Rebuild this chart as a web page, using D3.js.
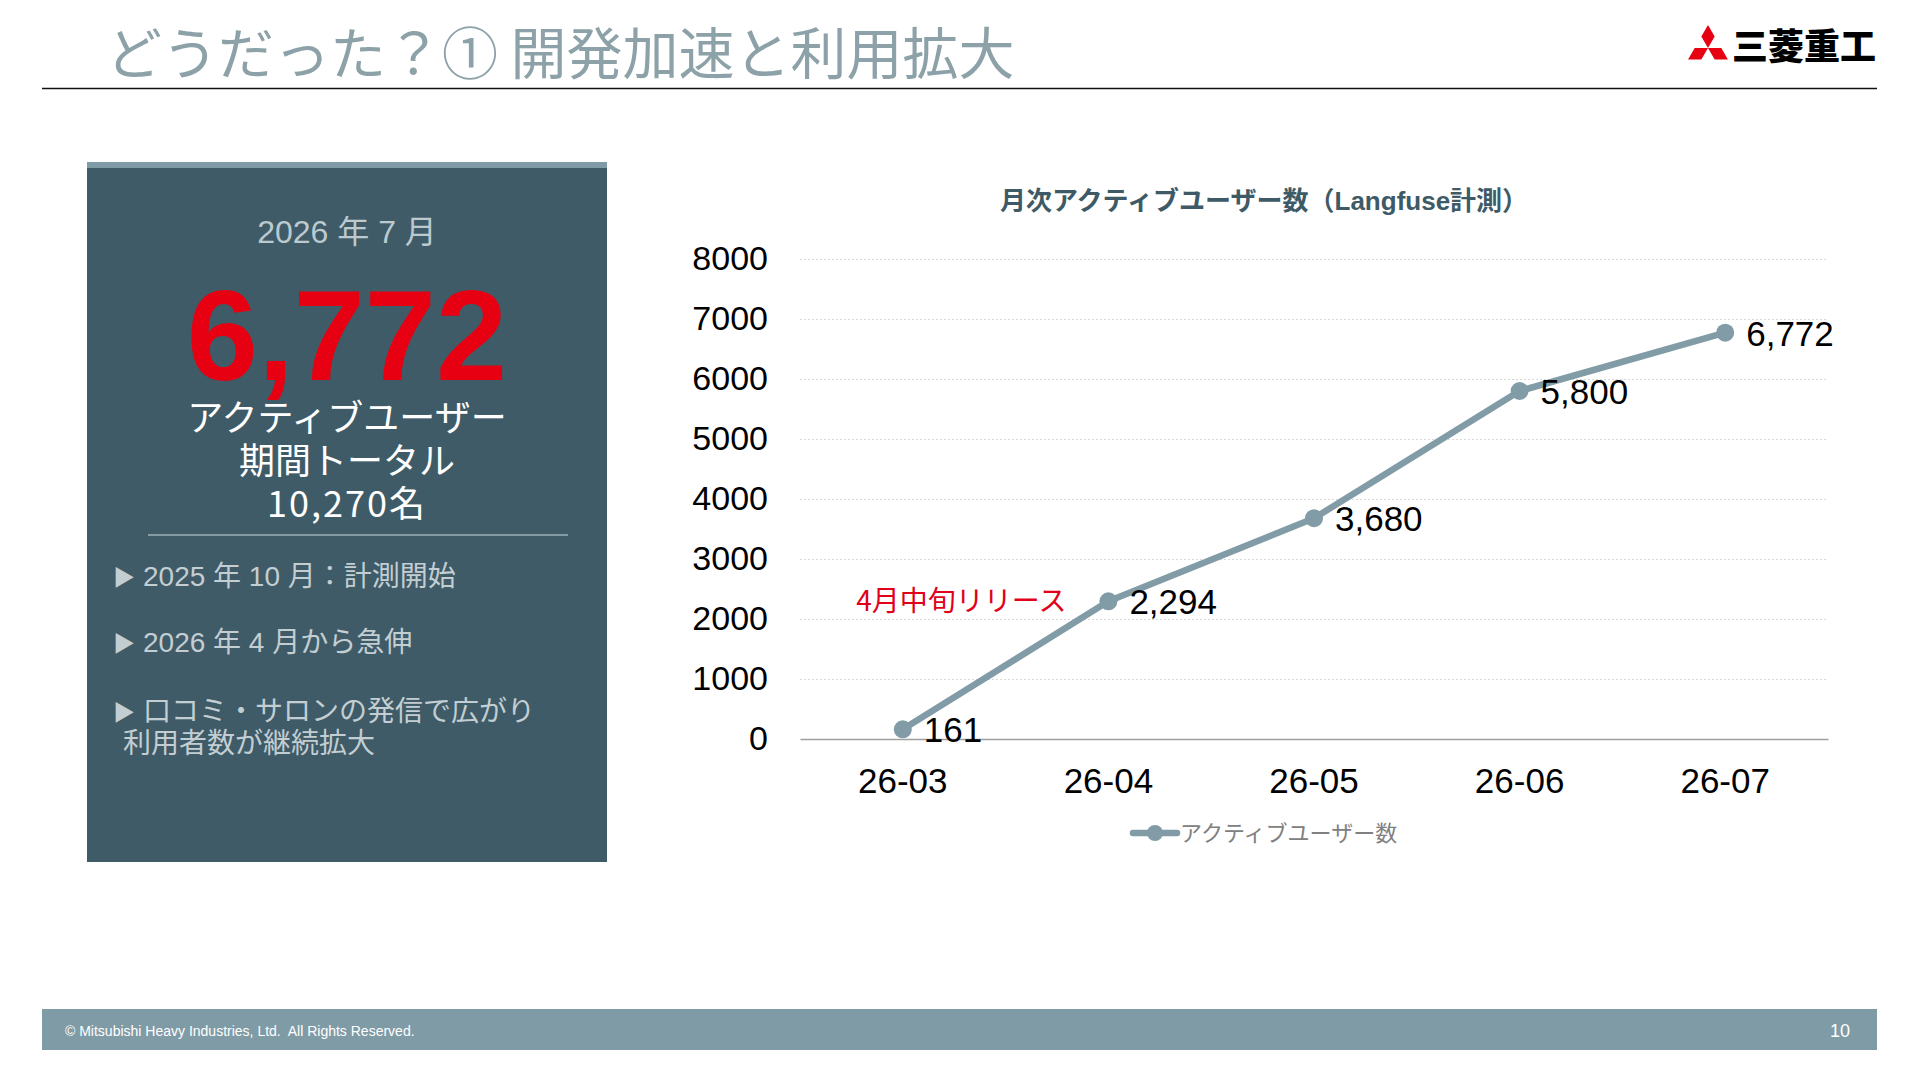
<!DOCTYPE html>
<html lang="ja">
<head>
<meta charset="utf-8">
<title>どうだった？① 開発加速と利用拡大</title>
<script src="https://cdn.jsdelivr.net/npm/d3@7/dist/d3.min.js"></script>
<style>
  body { margin: 0; background: #fff; }
  svg { display: block; }
</style>
</head>
<body>
<div id="chart-area"></div>
<script>
// data
const months = ["26-03", "26-04", "26-05", "26-06", "26-07"];
const activeUsers = [161, 2294, 3680, 5800, 6772];
const yTicks = [0, 1000, 2000, 3000, 4000, 5000, 6000, 7000, 8000];
const seriesName = "アクティブユーザー数";
const chartTitle = "月次アクティブユーザー数（Langfuse計測）";
const releaseNote = "4月中旬リリース";
const summaryMonth = "2026 年 7 月";
const summaryValue = "6,772";
const summaryLines = ["アクティブユーザー", "期間トータル", "10,270名"];
const bullets = [["2025 年 10 月：計測開始"], ["2026 年 4 月から急伸"], ["口コミ・サロンの発信で広がり", "利用者数が継続拡大"]];

const W = 1920, H = 1080;
const SANS = "'Liberation Sans', Arial, 'Noto Sans CJK JP', sans-serif";
const JP = "'Noto Sans CJK JP', sans-serif";
const LINE_COLOR = "#819ca6";
const SLATE = "#3f5b67";

const svg = d3.select("#chart-area").append("svg").attr("width", W).attr("height", H);
svg.append("rect").attr("width", W).attr("height", H).attr("fill", "#fff");

// ---- header ----
svg.append("text").attr("x", 106).attr("y", 74).
    attr("font-family", JP).attr("font-size", "56px").attr("font-weight", 400).
    attr("fill", "#8da2a8").text("どうだった？① 開発加速と利用拡大");

svg.append("line").attr("x1", 42).attr("x2", 1877).attr("y1", 88.5).attr("y2", 88.5).
    attr("stroke", "#111").attr("stroke-width", 1.5);

// three diamonds mark
const s = 13.3, cx = 1708, cy = 48;
const pt = (a, r) => [cx + r * Math.cos(a * Math.PI / 180), cy - r * Math.sin(a * Math.PI / 180)];
const diamond = (a1, a2) => {
    const p1 = pt(a1, s), p2 = pt(a2, s);
    const p3 = [p1[0] + p2[0] - cx, p1[1] + p2[1] - cy];
    return `M${cx},${cy}L${p1}L${p3}L${p2}Z`;
};
const logo = svg.append("g").attr("fill", "#e60012");
[[60, 120], [0, -60], [180, 240]].forEach(d => logo.append("path").attr("d", diamond(d[0], d[1])));
svg.append("text").attr("x", 1732).attr("y", 60).
    attr("font-family", JP).attr("font-size", "36px").attr("font-weight", 900).
    attr("fill", "#000").text("三菱重工");

// ---- left summary panel ----
const panel = svg.append("g");
panel.append("rect").attr("x", 87).attr("y", 162).attr("width", 520).attr("height", 700).attr("fill", SLATE);
panel.append("rect").attr("x", 87).attr("y", 162).attr("width", 520).attr("height", 6).attr("fill", "#7f9ba5");

const pcx = 347;
panel.append("text").attr("x", pcx).attr("y", 243).attr("text-anchor", "middle").
    attr("font-family", SANS).attr("font-size", "32px").attr("fill", "#bccad0").text(summaryMonth);
panel.append("text").attr("x", pcx).attr("y", 380).attr("text-anchor", "middle").
    attr("font-family", SANS).attr("font-size", "128px").attr("font-weight", 700).
    attr("fill", "#e60012").text(summaryValue);
panel.selectAll(".sum").data(summaryLines).enter().append("text").attr("class", "sum").
    attr("x", pcx).attr("y", (d, i) => 431 + i * 43).attr("text-anchor", "middle").
    attr("font-family", JP).attr("font-size", "36px").attr("fill", "#fff").
    attr("letter-spacing", (d, i) => i === 2 ? "2px" : null).text(d => d);
panel.append("line").attr("x1", 148).attr("x2", 568).attr("y1", 535).attr("y2", 535).
    attr("stroke", "#9db1b8").attr("stroke-width", 1.5);

const bulletY = [586, 652, 721];
bullets.forEach((lines, i) => {
    const g = panel.append("g").attr("font-size", "28px").attr("fill", "#c3ced3");
    g.append("text").attr("x", 113).attr("y", bulletY[i] - 1).attr("font-family", JP).attr("font-size", "22px").text("▶");
    g.append("text").attr("x", 143).attr("y", bulletY[i]).attr("font-family", SANS).text(lines[0]);
    if (lines[1]) {
        g.append("text").attr("x", 123).attr("y", bulletY[i] + 32).attr("font-family", SANS).text(lines[1]);
    }
});

// ---- line chart ----
const plot = { left: 800, right: 1828, top: 259, bottom: 739 };
const x = d3.scaleBand().domain(months).range([plot.left, plot.right]);
const cxOf = m => x(m) + x.bandwidth() / 2;
const y = d3.scaleLinear().domain([0, 8000]).range([plot.bottom, plot.top]);

svg.append("text").attr("x", 1264).attr("y", 210).attr("text-anchor", "middle").
    attr("font-family", SANS).attr("font-size", "26px").attr("font-weight", 700).
    attr("fill", "#3e5a66").text(chartTitle);

// gridlines
svg.append("g").selectAll("line").data(yTicks.filter(t => t > 0)).enter().append("line").
    attr("x1", plot.left).attr("x2", plot.right).
    attr("y1", t => y(t) + 0.5).attr("y2", t => y(t) + 0.5).
    attr("stroke", "#d9d9d9").attr("stroke-width", 1).attr("stroke-dasharray", "2,2");

const yAxisCall = d3.axisLeft(y).tickValues(yTicks).tickSize(0).tickPadding(32).tickFormat(d3.format("d"));
const yAxis = svg.append("g").attr("class", "y axis").attr("transform", `translate(${plot.left},0)`).call(yAxisCall);
yAxis.select(".domain").remove();
yAxis.selectAll("text").attr("font-family", SANS).attr("font-size", "34px").attr("fill", "#000");

const xAxisCall = d3.axisBottom(x).tickSize(0).tickPadding(29);
const xAxis = svg.append("g").attr("class", "x axis").attr("transform", `translate(0,${plot.bottom})`).call(xAxisCall);
xAxis.select(".domain").attr("stroke", "#a0a0a0").attr("stroke-width", 1.5);
xAxis.selectAll("text").attr("font-family", SANS).attr("font-size", "35px").attr("fill", "#000");

const points = months.map((m, i) => ({ month: m, value: activeUsers[i] }));
const line = d3.line().x(d => cxOf(d.month)).y(d => y(d.value));
svg.append("path").datum(points).attr("d", line).
    attr("fill", "none").attr("stroke", LINE_COLOR).attr("stroke-width", 6.5).attr("stroke-linejoin", "round");
svg.append("g").selectAll("circle").data(points).enter().append("circle").
    attr("cx", d => cxOf(d.month)).attr("cy", d => y(d.value)).attr("r", 9).attr("fill", LINE_COLOR);
svg.append("g").selectAll("text").data(points).enter().append("text").
    attr("x", d => cxOf(d.month) + 21).attr("y", d => y(d.value) + 13).
    attr("font-family", SANS).attr("font-size", "35px").attr("fill", "#000").
    text(d => d3.format(",")(d.value));

svg.append("text").attr("x", cxOf(months[1]) - 42).attr("y", y(activeUsers[1]) + 10).
    attr("text-anchor", "end").attr("font-family", JP).attr("font-size", "28px").
    attr("fill", "#e0001a").text(releaseNote);

// legend
const legend = svg.append("g").attr("transform", "translate(1133,833)");
legend.append("line").attr("x1", 0).attr("x2", 44).attr("stroke", LINE_COLOR).attr("stroke-width", 6.5).attr("stroke-linecap", "round");
legend.append("circle").attr("cx", 22).attr("r", 8).attr("fill", LINE_COLOR);
legend.append("text").attr("x", 47).attr("y", 8).attr("font-family", JP).attr("font-size", "22px").
    attr("fill", "#808080").text(seriesName);

// ---- footer ----
svg.append("rect").attr("x", 42).attr("y", 1009).attr("width", 1835).attr("height", 41).attr("fill", "#7f9ba5");
svg.append("text").attr("x", 65).attr("y", 1036).attr("font-family", SANS).attr("font-size", "14px").
    attr("fill", "#fff").attr("xml:space", "preserve").text("© Mitsubishi Heavy Industries, Ltd.  All Rights Reserved.");
svg.append("text").attr("x", 1850).attr("y", 1037).attr("text-anchor", "end").attr("font-family", SANS).
    attr("font-size", "18px").attr("fill", "#fff").text("10");
</script>
</body>
</html>
